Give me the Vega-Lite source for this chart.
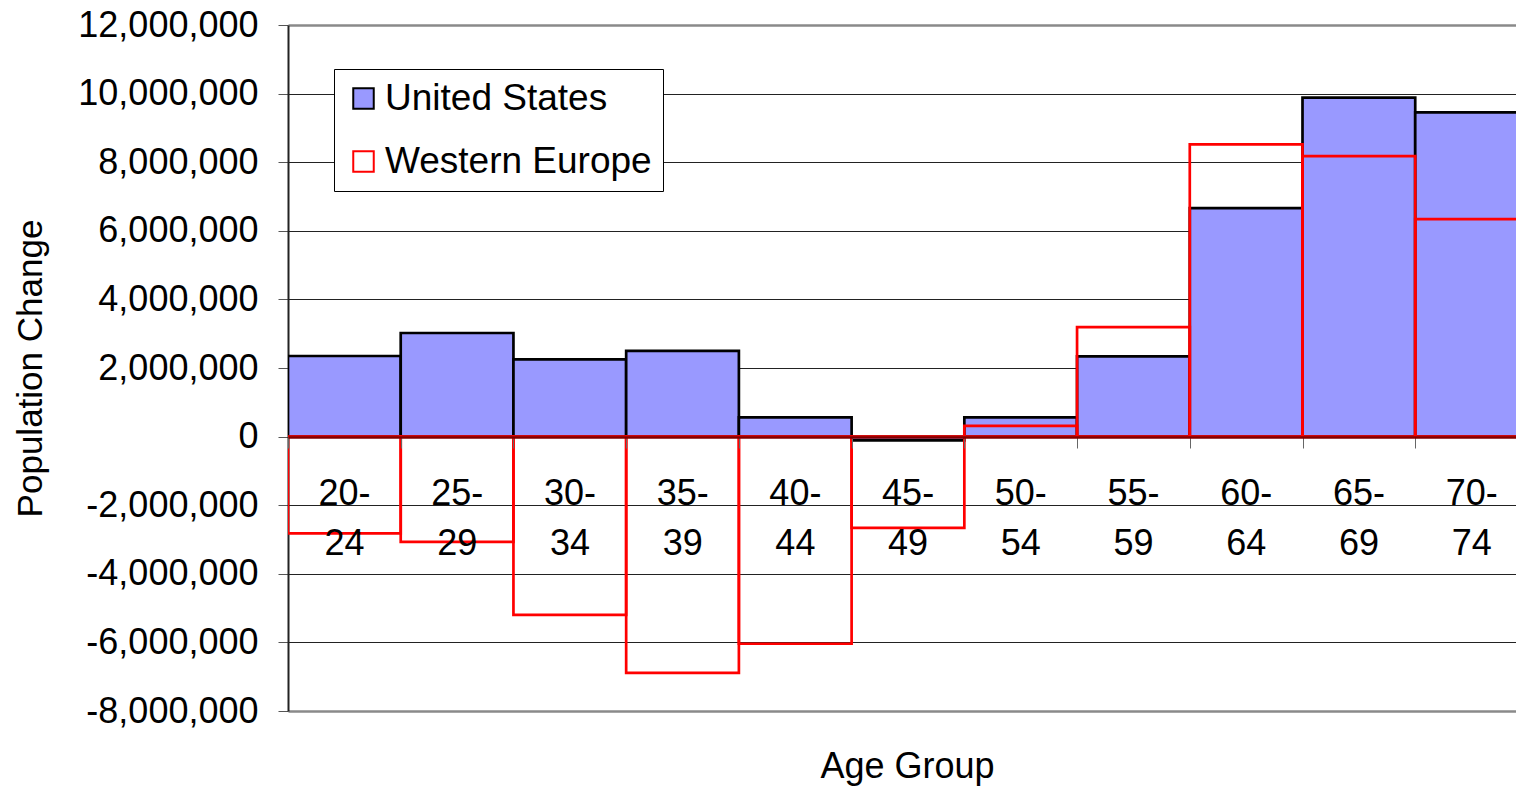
{
  "$schema": "https://vega.github.io/schema/vega-lite/v6.json",
  "width": 1228,
  "height": 686,
  "autosize": {"type": "none"},
  "padding": {"left": 288, "top": 25, "right": 0, "bottom": 83},
  "background": "white",
  "config": {"view": {"stroke": null}, "font": "Liberation Sans"},
  "data": {
    "values": [
      {"age": "20-24", "start": 20, "end": 25, "region": "United States", "change": 2350000},
      {"age": "25-29", "start": 25, "end": 30, "region": "United States", "change": 3020000},
      {"age": "30-34", "start": 30, "end": 35, "region": "United States", "change": 2250000},
      {"age": "35-39", "start": 35, "end": 40, "region": "United States", "change": 2500000},
      {"age": "40-44", "start": 40, "end": 45, "region": "United States", "change": 560000},
      {"age": "45-49", "start": 45, "end": 50, "region": "United States", "change": -110000},
      {"age": "50-54", "start": 50, "end": 55, "region": "United States", "change": 560000},
      {"age": "55-59", "start": 55, "end": 60, "region": "United States", "change": 2340000},
      {"age": "60-64", "start": 60, "end": 65, "region": "United States", "change": 6660000},
      {"age": "65-69", "start": 65, "end": 70, "region": "United States", "change": 9880000},
      {"age": "70-74", "start": 70, "end": 75, "region": "United States", "change": 9450000},
      {"age": "20-24", "start": 20, "end": 25, "region": "Western Europe", "change": -2820000},
      {"age": "25-29", "start": 25, "end": 30, "region": "Western Europe", "change": -3070000},
      {"age": "30-34", "start": 30, "end": 35, "region": "Western Europe", "change": -5200000},
      {"age": "35-39", "start": 35, "end": 40, "region": "Western Europe", "change": -6890000},
      {"age": "40-44", "start": 40, "end": 45, "region": "Western Europe", "change": -6040000},
      {"age": "45-49", "start": 45, "end": 50, "region": "Western Europe", "change": -2660000},
      {"age": "50-54", "start": 50, "end": 55, "region": "Western Europe", "change": 310000},
      {"age": "55-59", "start": 55, "end": 60, "region": "Western Europe", "change": 3190000},
      {"age": "60-64", "start": 60, "end": 65, "region": "Western Europe", "change": 8520000},
      {"age": "65-69", "start": 65, "end": 70, "region": "Western Europe", "change": 8180000},
      {"age": "70-74", "start": 70, "end": 75, "region": "Western Europe", "change": 6340000}
    ]
  },
  "mark": {"type": "bar", "strokeWidth": 2.7, "clip": true},
  "encoding": {
    "x": {
      "field": "start",
      "type": "quantitative",
      "scale": {"domain": [20, 74.47], "nice": false, "zero": false},
      "axis": {
        "orient": "bottom",
        "offset": -274,
        "values": [20, 25, 30, 35, 40, 45, 50, 55, 60, 65, 70],
        "labelExpr": "[datum.value + '-', '' + (datum.value + 4)]",
        "labelOffset": 56,
        "labelFont": "Liberation Sans",
        "labelFontSize": 36,
        "labelColor": "black",
        "labelPadding": 28,
        "labelLineHeight": 50,
        "labelFlush": false,
        "labelOverlap": false,
        "labelBound": false,
        "tickSize": 11,
        "tickColor": "#666666",
        "domainColor": "#800000",
        "domainWidth": 2.5,
        "grid": false,
        "title": "Age Group",
        "titleFont": "Liberation Sans",
        "titleFontSize": 36,
        "titleFontWeight": "normal",
        "titleColor": "black",
        "titleX": 619,
        "titleY": 340,
        "titleBaseline": "alphabetic",
        "titleAlign": "center",
        "zindex": 1
      }
    },
    "x2": {"field": "end"},
    "y": {
      "field": "change",
      "type": "quantitative",
      "scale": {"domain": [-8000000, 12000000], "nice": false},
      "axis": {
        "title": "Population Change",
        "titleFont": "Liberation Sans",
        "titleFontSize": 35,
        "titleFontWeight": "normal",
        "titleColor": "black",
        "titlePadding": 40,
        "titleLimit": 800,
        "values": [-8000000, -6000000, -4000000, -2000000, 0, 2000000, 4000000, 6000000, 8000000, 10000000, 12000000],
        "format": ",d",
        "labelExpr": "replace(datum.label, '\u2212', '-')",
        "labelFont": "Liberation Sans",
        "labelFontSize": 36,
        "labelColor": "black",
        "labelPadding": 20,
        "labelLimit": 400,
        "labelFlush": false,
        "labelOverlap": false,
        "tickSize": 10,
        "tickColor": "#555555",
        "domainColor": "#222222",
        "domainWidth": 2,
        "grid": true,
        "gridColor": {"condition": {"test": "datum.value === 12000000 || datum.value === -8000000", "value": "#8a8a8a"}, "value": "#222222"},
        "gridWidth": {"condition": {"test": "datum.value === 12000000 || datum.value === -8000000", "value": 2.5}, "value": 1},
        "zindex": 0
      }
    },
    "y2": {"datum": 0},
    "fill": {
      "field": "region",
      "type": "nominal",
      "scale": {"domain": ["United States", "Western Europe"], "range": ["#9999FF", "transparent"]},
      "legend": {
        "title": null,
        "orient": "none",
        "legendX": 46,
        "legendY": 44,
        "direction": "vertical",
        "fillColor": "white",
        "strokeColor": "#000000",
        "padding": 11,
        "symbolType": "square",
        "symbolSize": 420,
        "symbolStrokeWidth": 2,
        "labelFont": "Liberation Sans",
        "labelFontSize": 37,
        "labelColor": "black",
        "labelOffset": 3,
        "labelLimit": 500,
        "rowPadding": 25
      }
    },
    "stroke": {
      "field": "region",
      "type": "nominal",
      "scale": {"domain": ["United States", "Western Europe"], "range": ["#000000", "#FF0000"]},
      "legend": {
        "title": null,
        "orient": "none",
        "legendX": 46,
        "legendY": 44,
        "direction": "vertical",
        "fillColor": "white",
        "strokeColor": "#000000",
        "padding": 11,
        "symbolType": "square",
        "symbolSize": 420,
        "symbolStrokeWidth": 2,
        "labelFont": "Liberation Sans",
        "labelFontSize": 37,
        "labelColor": "black",
        "labelOffset": 3,
        "labelLimit": 500,
        "rowPadding": 25
      }
    }
  }
}
